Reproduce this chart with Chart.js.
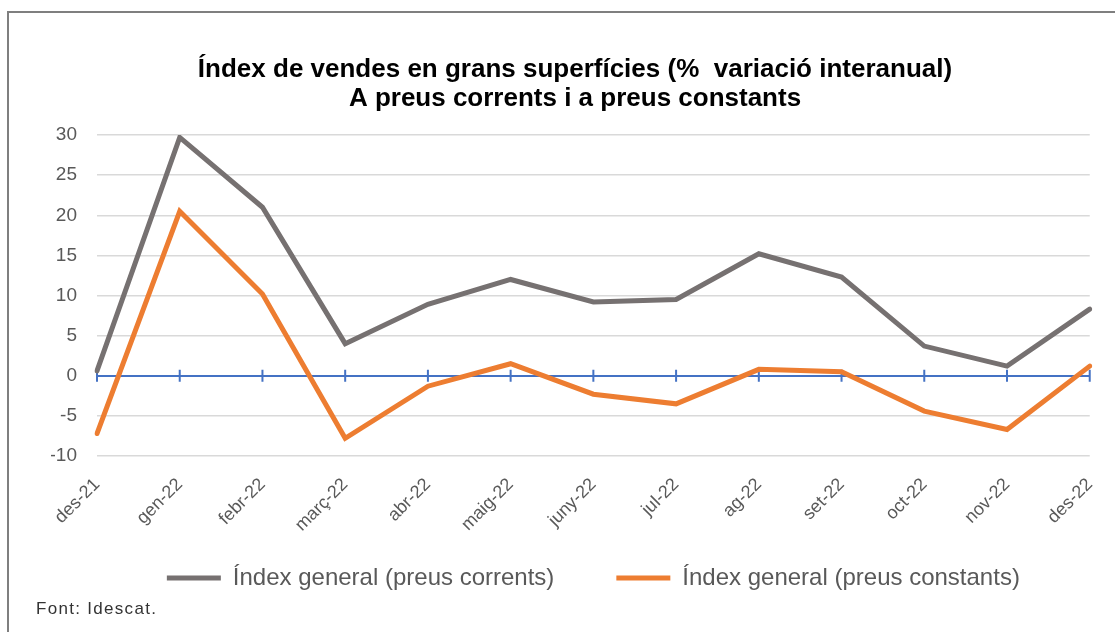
<!DOCTYPE html>
<html>
<head>
<meta charset="utf-8">
<script src="https://cdn.jsdelivr.net/npm/chart.js@4.4.1/dist/chart.umd.min.js"></script>
<style>
  html, body { margin: 0; padding: 0; background: #fff; width: 1115px; height: 632px; overflow: hidden; }
  #frame { position: absolute; left: 7px; top: 11px; width: 1200px; height: 700px;
           border-left: 2px solid #7f7f7f; border-top: 2px solid #7f7f7f; }
  #wrap { position: absolute; left: 9px; top: 13px; width: 1106px; height: 619px; }
  #source { position: absolute; left: 36px; top: 599px; font-family: "Liberation Sans", Arial, sans-serif;
            font-size: 17px; line-height: 20px; letter-spacing: 1.3px; color: #333; }
</style>
</head>
<body>
<div id="frame"></div>
<div id="wrap"><canvas id="c"></canvas></div>
<div id="source">Font: Idescat.</div>
<script>
const categories = ['des-21','gen-22','febr-22','març-22','abr-22','maig-22','juny-22','jul-22','ag-22','set-22','oct-22','nov-22','des-22'];
const seriesNames = ['Índex general (preus corrents)', 'Índex general (preus constants)'];
const preusCorrents = [0.6, 29.7, 21.0, 4.0, 8.9, 12.0, 9.2, 9.5, 15.2, 12.3, 3.7, 1.2, 8.3];
const preusConstants = [-7.2, 20.5, 10.2, -7.8, -1.3, 1.5, -2.3, -3.5, 0.8, 0.5, -4.4, -6.7, 1.2];
const titleLines = ['Índex de vendes en grans superfícies (%  variació interanual)', 'A preus corrents i a preus constants'];
const yMin = -10, yMax = 30, yStep = 5;

const FONT = '"Liberation Sans", Arial, sans-serif';

const zeroTicks = {
  id: 'zeroTicks',
  beforeDatasetsDraw(chart) {
    const x = chart.scales.x, y = chart.scales.y;
    const y0 = y.getPixelForValue(0);
    const ctx = chart.ctx;
    ctx.save();
    ctx.strokeStyle = '#4472c4';
    ctx.lineWidth = 2;
    ctx.beginPath();
    for (let i = 0; i < categories.length; i++) {
      const px = x.getPixelForTick(i);
      ctx.moveTo(px, y0 - 6);
      ctx.lineTo(px, y0 + 6);
    }
    ctx.stroke();
    ctx.restore();
  }
};

new Chart(document.getElementById('c'), {
  type: 'line',
  data: {
    labels: categories,
    datasets: [
      { label: seriesNames[0], data: preusCorrents, borderColor: '#767171', backgroundColor: '#767171',
        borderWidth: 5, pointRadius: 0, tension: 0, borderCapStyle: 'round' },
      { label: seriesNames[1], data: preusConstants, borderColor: '#ed7d31', backgroundColor: '#ed7d31',
        borderWidth: 5, pointRadius: 0, tension: 0, borderCapStyle: 'round' }
    ]
  },
  options: {
    responsive: true,
    maintainAspectRatio: false,
    animation: false,
    layout: { padding: { left: 42, right: 16, top: 0, bottom: 32 } },
    plugins: {
      title: {
        display: true,
        text: titleLines,
        color: '#000',
        font: { family: FONT, size: 26, weight: 'bold', lineHeight: 1.12 },
        padding: { top: 42.4, bottom: 21.4 }
      },
      legend: {
        position: 'bottom',
        fullSize: false,
        labels: {
          usePointStyle: true,
          pointStyle: 'line',
          pointStyleWidth: 54,
          padding: 62,
          color: '#595959',
          font: { family: FONT, size: 24 }
        }
      },
      tooltip: { enabled: false }
    },
    scales: {
      x: {
        grid: { display: false },
        border: { display: false },
        ticks: { color: '#595959', font: { family: FONT, size: 18 }, minRotation: 45, maxRotation: 45, padding: 10 },
        afterFit(scale) {
          scale.height = 48;
          scale._computeLabelArea = function () { return undefined; };
        }
      },
      y: {
        min: yMin, max: yMax,
        border: { display: false },
        grid: {
          drawTicks: false,
          color: (c) => c.tick && c.tick.value === 0 ? '#4472c4' : '#d9d9d9',
          lineWidth: (c) => c.tick && c.tick.value === 0 ? 2 : 1.5
        },
        ticks: { stepSize: yStep, color: '#595959', font: { family: FONT, size: 19 }, padding: 20 },
        afterFit(scale) { scale.width = 46; }
      }
    }
  },
  plugins: [zeroTicks]
});
</script>
</body>
</html>
